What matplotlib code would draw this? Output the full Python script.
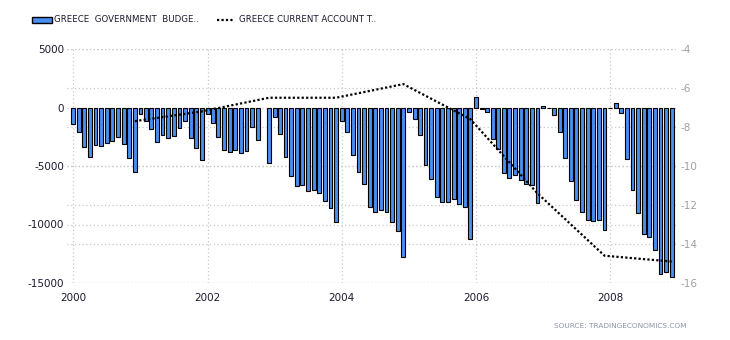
import matplotlib
matplotlib.use("Agg")
import matplotlib.pyplot as plt
import matplotlib.dates as mdates
import numpy as np
import pandas as pd
from matplotlib.patches import Rectangle
from matplotlib.lines import Line2D

# Monthly government budget balance (EUR million), Jan 2000 - Dec 2008
budget_months = pd.date_range("2000-01-01", periods=108, freq="MS")
budget_values = [
    # 2000
    -1440, -2120, -3400, -4260, -3235, -3320, -3064, -2893, -2551, -3150, -4346, -5543,
    # 2001
    -584, -1126, -1867, -2978, -2380, -2636, -2465, -1781, -1183, -2636, -3491, -4517,
    # 2002 (November not reported)
    -584, -1354, -2551, -3662, -3833, -3662, -3919, -3748, -1696, -2807, np.nan, -4774,
    # 2003
    -784, -2294, -4260, -5885, -6740, -6655, -7168, -7082, -7339, -8023, -8621, -9818,
    # 2004
    -1183, -2123, -4090, -5543, -6569, -8536, -8963, -8792, -8963, -9818, -10588, -12811,
    # 2005
    -413, -1012, -2380, -4945, -6142, -7681, -8109, -8109, -7852, -8280, -8536, -11272,
    # 2006
    869, -128, -413, -2722, -3577, -5629, -6056, -5800, -6227, -6569, -6655, -8194,
    # 2007
    90, -60, -670, -2123, -4346, -6313, -7938, -8963, -9647, -9733, -9647, -10502,
    # 2008
    -30, 356, -499, -4432, -7082, -9049, -10844, -11101, -12212, -14264, -14036, -14521,
]

# Annual current account balance (% of GDP), plotted at December
ca_dates = pd.to_datetime([f"{y}-12-01" for y in range(2000, 2009)])
ca_values = [-7.7, -7.2, -6.5, -6.5, -5.8, -7.6, -11.4, -14.6, -14.9]

left_ticks = [5000, 0, -5000, -10000, -15000]
right_ticks = [-4, -6, -8, -10, -12, -14, -16]
year_ticks = pd.to_datetime([f"{y}-01-01" for y in range(2000, 2009, 2)])

legend_labels = ["GREECE  GOVERNMENT  BUDGE..", "GREECE CURRENT ACCOUNT T.."]
source_text = "SOURCE: TRADINGECONOMICS.COM"

bar_color = "#4a8ef0"
grid_color = "#c8c8c8"
text_dark = "#1a1a2e"
text_grey = "#a0a0a0"
dots = (0, (1, 1))

left_lim = (-15000, 5000)
right_lim = (-16, -4)


def right_to_left(v):
    """Map a value on the right scale onto the left scale."""
    frac = (v - right_lim[0]) / (right_lim[1] - right_lim[0])
    return left_lim[0] + frac * (left_lim[1] - left_lim[0])


fig = plt.figure(figsize=(7.3, 3.4), dpi=100)
ax = fig.add_axes([67 / 730, 1 - 283 / 340, (676 - 67) / 730, (283 - 49) / 340])
ax2 = ax.twinx()

x_left = pd.Timestamp("2000-01-01") - pd.Timedelta(days=34)
x_right = pd.Timestamp("2008-12-24")

# grid lines sit behind the bars
for t in year_ticks:
    ax.axvline(t, color=grid_color, lw=0.9, ls=(0, (1, 2)), zorder=0)
for v in left_ticks:
    ax.axhline(v, color=grid_color, lw=0.9, ls=(0, (1, 2)), zorder=0)
for v in right_ticks:
    ax.axhline(right_to_left(v), color=grid_color, lw=0.9, ls=(0, (1, 2)), zorder=0)

ax.bar(budget_months, budget_values, width=21, color=bar_color,
       edgecolor="black", linewidth=0.8, zorder=2)

ax2.plot(ca_dates, ca_values, color="black", lw=1.6, ls=dots, zorder=3)

ax.set_xlim(x_left, x_right)
ax.set_ylim(*left_lim)
ax2.set_ylim(*right_lim)

for a in (ax, ax2):
    for s in a.spines.values():
        s.set_visible(False)
ax2.patch.set_visible(False)

ax.set_yticks(left_ticks)
ax.set_yticklabels([str(v) for v in left_ticks])
ax.tick_params(axis="y", length=0, pad=2, labelsize=7.5, labelcolor=text_dark)
ax.set_xticks(year_ticks)
ax.xaxis.set_major_formatter(mdates.DateFormatter("%Y"))
ax.tick_params(axis="x", length=0, pad=7, labelsize=7.5, labelcolor=text_dark)

ax2.set_yticks(right_ticks)
ax2.set_yticklabels([str(v) for v in right_ticks])
ax2.tick_params(axis="y", length=0, pad=3, labelsize=7.5, labelcolor=text_grey)

# legend row across the top
fig.patches.append(Rectangle((31.7 / 730, 1 - 23 / 340), 20 / 730, 6.3 / 340,
                             transform=fig.transFigure, facecolor=bar_color,
                             edgecolor="black", linewidth=1.0))
fig.text(54 / 730, 1 - 20 / 340, legend_labels[0], fontsize=6.2,
         color=text_dark, va="center", ha="left")
fig.lines.append(Line2D([217 / 730, 233 / 730], [1 - 20 / 340, 1 - 20 / 340],
                        transform=fig.transFigure, color="black", lw=1.6,
                        ls=dots))
fig.text(239 / 730, 1 - 20 / 340, legend_labels[1], fontsize=6.2,
         color=text_dark, va="center", ha="left")

fig.text(687 / 730, 1 - 326 / 340, source_text, fontsize=5.3,
         color="#8a94a8", va="center", ha="right")

fig.savefig("out.png", dpi=100)
